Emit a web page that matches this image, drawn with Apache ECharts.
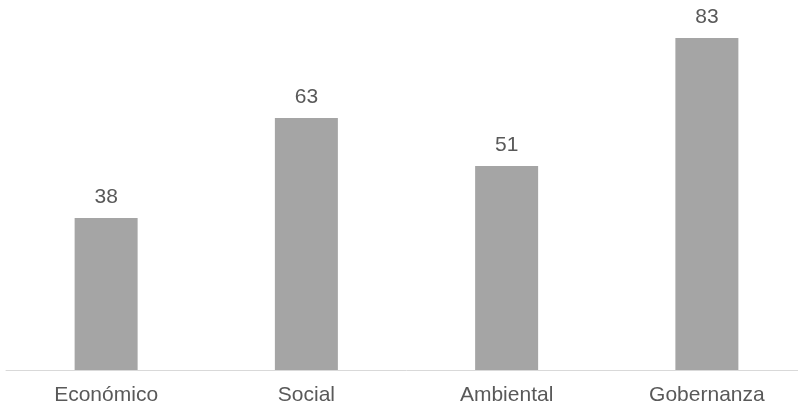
<!DOCTYPE html>
<html>
<head>
<meta charset="utf-8">
<script src="https://cdn.jsdelivr.net/npm/echarts@6/dist/echarts.min.js"></script>
<style>html,body{margin:0;padding:0;background:#fff;overflow:hidden;width:798px;height:407px}#c{width:812px;height:407px}</style>
</head>
<body>
<div id="c"></div>
<script>
const categories = ["Económico", "Social", "Ambiental", "Gobernanza"];
const values = [38, 63, 51, 83];

const chart = echarts.init(document.getElementById('c'), null, {renderer: 'canvas'});
chart.setOption({
  animation: false,
  backgroundColor: '#ffffff',
  grid: {left: 6, width: 801, top: 10, height: 360, containLabel: false},
  xAxis: {
    type: 'category',
    data: categories,
    axisLine: {lineStyle: {color: '#d9d9d9', width: 1}},
    axisTick: {show: false},
    axisLabel: {color: '#595959', fontSize: 21, fontFamily: 'Liberation Sans, Arial, sans-serif', margin: 15}
  },
  yAxis: {
    type: 'value', min: 0, max: 90,
    show: false,
    splitLine: {show: false}
  },
  series: [{
    type: 'bar',
    data: values,
    barWidth: 63,
    itemStyle: {color: '#a5a5a5'},
    label: {show: true, position: 'top', distance: 10, color: '#595959', fontSize: 21, fontFamily: 'Liberation Sans, Arial, sans-serif'}
  }]
});
</script>
</body>
</html>
